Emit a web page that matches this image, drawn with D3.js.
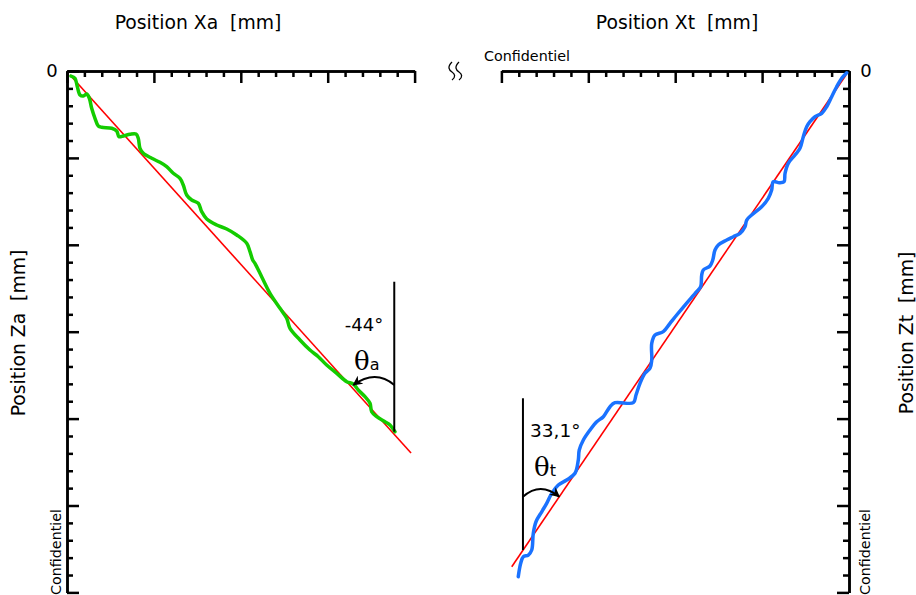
<!DOCTYPE html>
<html><head><meta charset="utf-8">
<script src="https://cdn.jsdelivr.net/npm/d3@7/dist/d3.min.js"></script>
<style>body{margin:0;background:#fff}svg{display:block}text{font-family:"DejaVu Sans",sans-serif}</style>
</head><body><svg id="c" width="916" height="595"></svg>
<script>
// Data (mm)
const greenX=[0.046,0.092,0.119,0.150,0.188,0.227,0.257,0.284,0.322,0.360,0.399,0.514,0.572,0.598,0.648,0.725,0.794,0.820,0.840,0.878,0.975,1.070,1.147,1.223,1.300,1.338,1.377,1.435,1.511,1.550,1.608,1.723,1.838,1.953,2.068,2.106,2.137,2.163,2.240,2.336,2.451,2.528,2.566,2.681,2.796,2.892,2.988,3.104,3.219,3.295,3.352,3.429,3.487,3.506,3.564,3.659,3.717,3.774];
const greenZ=[0.058,0.084,0.181,0.276,0.288,0.265,0.314,0.429,0.544,0.633,0.648,0.659,0.690,0.756,0.748,0.728,0.725,0.774,0.890,0.947,1.005,1.051,1.101,1.177,1.235,1.312,1.427,1.484,1.522,1.619,1.703,1.772,1.818,1.887,1.983,2.079,2.175,2.213,2.367,2.558,2.731,2.846,2.961,3.095,3.211,3.288,3.383,3.479,3.575,3.602,3.671,3.748,3.824,3.921,3.978,4.036,4.074,4.151];
const blueX=[0.026,0.084,0.142,0.199,0.257,0.314,0.391,0.449,0.487,0.526,0.564,0.621,0.699,0.736,0.748,0.802,0.871,0.890,0.929,1.005,1.120,1.177,1.197,1.254,1.331,1.407,1.504,1.542,1.568,1.600,1.677,1.695,1.707,1.753,1.887,1.983,2.060,2.137,2.232,2.270,2.270,2.290,2.348,2.405,2.451,2.482,2.693,2.750,2.827,2.903,2.980,3.057,3.104,3.115,3.153,3.249,3.345,3.421,3.479,3.536,3.602,3.633,3.651,3.690,3.748,3.778,3.806];
const blueZ=[0.020,0.084,0.181,0.296,0.411,0.487,0.526,0.583,0.641,0.756,0.890,0.967,1.062,1.177,1.274,1.285,1.274,1.369,1.465,1.562,1.657,1.715,1.792,1.868,1.907,1.945,2.002,2.060,2.175,2.244,2.290,2.348,2.482,2.540,2.693,2.808,2.904,3.000,3.038,3.134,3.326,3.421,3.479,3.594,3.728,3.817,3.817,3.863,3.978,4.036,4.131,4.246,4.361,4.476,4.629,4.707,4.764,4.860,4.975,5.072,5.187,5.320,5.512,5.570,5.589,5.665,5.819];
const fitAX=[0.035,3.959], fitAZ=[0.046,4.396];
const fitTX=[0.035,3.881], fitTZ=[0.046,5.704];
const majorX=[0,1,2,3,4], majorZ=[0,1,2,3,4,5,6];
const minorX=d3.range(0,20.5).map(i=>i*0.2).filter(v=>Math.abs(v-Math.round(v))>1e-6);
const minorZ=d3.range(0,30.5).map(i=>i*0.2).filter(v=>Math.abs(v-Math.round(v))>1e-6);
const angleA="-44°", angleT="33,1°";

const svg=d3.select("#c");
const xA=d3.scaleLinear().domain([0,4]).range([67,414.6]);
const xT=d3.scaleLinear().domain([0,4]).range([849,501.4]);
const yZ=d3.scaleLinear().domain([0,6]).range([71,592.4]);

function ax(gen,tr,vals,size){
  const g=svg.append("g").attr("transform",tr).call(gen.tickValues(vals).tickSize(size).tickSizeOuter(0).tickFormat(""));
  g.select(".domain").attr("stroke","#000").attr("stroke-width",2.5);
  g.selectAll(".tick line").attr("stroke","#000").attr("stroke-width",2.5);
  return g;
}
// left panel axes
ax(d3.axisBottom(xA),"translate(0,71)",minorX,6);
ax(d3.axisBottom(xA),"translate(0,71)",majorX,12);
ax(d3.axisRight(yZ),"translate(67,0)",minorZ,6);
ax(d3.axisRight(yZ),"translate(67,0)",majorZ,12);
// right panel axes
ax(d3.axisBottom(xT),"translate(0,71)",minorX,6);
ax(d3.axisBottom(xT),"translate(0,71)",majorX,12);
ax(d3.axisLeft(yZ),"translate(849,0)",minorZ,6);
ax(d3.axisLeft(yZ),"translate(849,0)",majorZ,12);

// fits
svg.append("line").attr("x1",xA(fitAX[0])).attr("y1",yZ(fitAZ[0])).attr("x2",xA(fitAX[1])).attr("y2",yZ(fitAZ[1])).attr("stroke","#ff0000").attr("stroke-width",1.6);
svg.append("line").attr("x1",xT(fitTX[0])).attr("y1",yZ(fitTZ[0])).attr("x2",xT(fitTX[1])).attr("y2",yZ(fitTZ[1])).attr("stroke","#ff0000").attr("stroke-width",1.6);

const lineA=d3.line().x(d=>xA(d[0])).y(d=>yZ(d[1])).curve(d3.curveCatmullRom);
const lineT=d3.line().x(d=>xT(d[0])).y(d=>yZ(d[1])).curve(d3.curveCatmullRom);
svg.append("path").attr("d",lineA(d3.zip(greenX,greenZ))).attr("fill","none").attr("stroke","#14cc00").attr("stroke-width",3.5).attr("stroke-linejoin","round").attr("stroke-linecap","round");
svg.append("path").attr("d",lineT(d3.zip(blueX,blueZ))).attr("fill","none").attr("stroke","#1a72ff").attr("stroke-width",3.5).attr("stroke-linejoin","round").attr("stroke-linecap","round");

// arrow marker
svg.append("defs").append("marker").attr("id","arr").attr("viewBox","0 0 10 10").attr("refX",9).attr("refY",5)
 .attr("markerWidth",5).attr("markerHeight",5).attr("orient","auto").attr("markerUnits","strokeWidth")
 .append("path").attr("d","M0,0 L10,5 L0,10 L3,5 Z").attr("fill","#000");

// angle annotation left
svg.append("line").attr("x1",xA(3.766)).attr("x2",xA(3.766)).attr("y1",yZ(2.425)).attr("y2",yZ(4.151)).attr("stroke","#000").attr("stroke-width",2);
svg.append("path").attr("d",`M${xA(3.766)},${yZ(3.613)} Q${xA(3.55)},${yZ(3.43)} ${xA(3.295)},${yZ(3.613)}`).attr("fill","none").attr("stroke","#000").attr("stroke-width",2).attr("marker-end","url(#arr)");
svg.append("text").attr("x",364).attr("y",331).attr("text-anchor","middle").attr("font-size",18).text(angleA);
const tA=svg.append("text").attr("x",354).attr("y",370);
tA.append("tspan").attr("font-family","DejaVu Serif, serif").attr("font-size",26).text("θ");
tA.append("tspan").attr("font-size",16).text("a");

// angle annotation right
svg.append("line").attr("x1",xT(3.752)).attr("x2",xT(3.752)).attr("y1",yZ(3.766)).attr("y2",yZ(5.512)).attr("stroke","#000").attr("stroke-width",2);
svg.append("path").attr("d",`M${xT(3.752)},${yZ(4.899)} Q${xT(3.55)},${yZ(4.72)} ${xT(3.334)},${yZ(4.899)}`).attr("fill","none").attr("stroke","#000").attr("stroke-width",2).attr("marker-end","url(#arr)");
svg.append("text").attr("x",530).attr("y",437).attr("font-size",18.5).text(angleT);
const tT=svg.append("text").attr("x",534).attr("y",476);
tT.append("tspan").attr("font-family","DejaVu Serif, serif").attr("font-size",26).text("θ");
tT.append("tspan").attr("font-size",16).text("t");

// titles
svg.append("text").attr("x",198).attr("y",29).attr("text-anchor","middle").attr("font-size",18.8).style("white-space","pre").text("Position Xa  [mm]");
svg.append("text").attr("x",677).attr("y",29).attr("text-anchor","middle").attr("font-size",18.8).style("white-space","pre").text("Position Xt  [mm]");
svg.append("text").attr("transform","translate(25,333) rotate(-90)").attr("text-anchor","middle").attr("font-size",18.8).style("white-space","pre").text("Position Za  [mm]");
svg.append("text").attr("transform","translate(913,333) rotate(-90)").attr("text-anchor","middle").attr("font-size",18.8).style("white-space","pre").text("Position Zt  [mm]");
// zero labels
svg.append("text").attr("x",xA(0)-15).attr("y",yZ(0)+6).attr("text-anchor","middle").attr("font-size",18).text("0");
svg.append("text").attr("x",xT(0)+17).attr("y",yZ(0)+6).attr("text-anchor","middle").attr("font-size",18).text("0");
// confidential marks
svg.append("text").attr("x",484).attr("y",61).attr("font-size",14.3).text("Confidentiel");
svg.append("text").attr("transform","translate(61,595) rotate(-90)").attr("font-size",14.3).text("Confidentiel");
svg.append("text").attr("transform","translate(870,595) rotate(-90)").attr("font-size",14.3).text("Confidentiel");
// axis break symbol
[452,459].forEach(x0=>{
  svg.append("path").attr("d",`M${x0},62 C${x0-5},67 ${x0-3},70 ${x0},72 C${x0+3},74 ${x0+4},77 ${x0},80`).attr("fill","none").attr("stroke","#000").attr("stroke-width",1.3);
});
</script></body></html>
